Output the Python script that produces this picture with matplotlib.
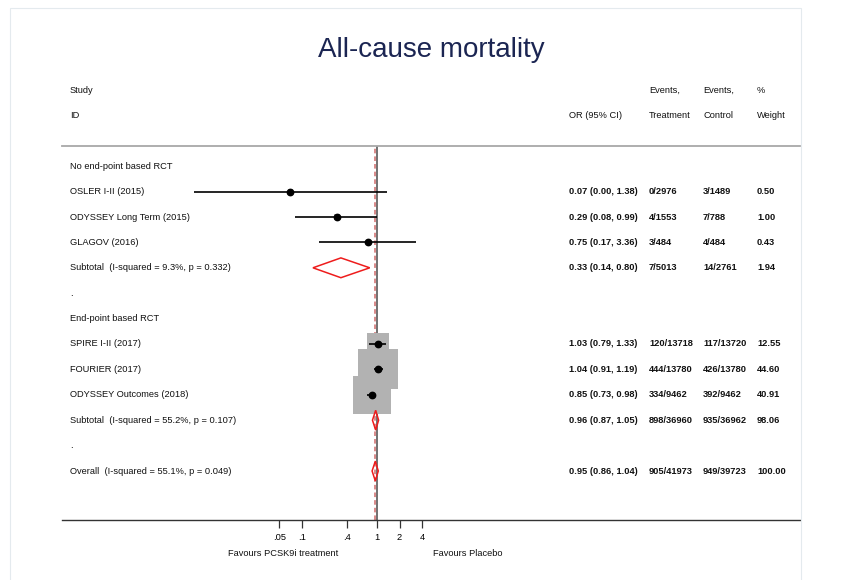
import matplotlib
matplotlib.use("Agg")
import matplotlib.pyplot as plt
import matplotlib.transforms as mtransforms
from matplotlib.patches import Polygon, Rectangle

plt.rcParams["font.family"] = ["Liberation Sans", "DejaVu Sans"]

# ---- data ----
studies = ["OSLER I-II (2015)", "ODYSSEY Long Term (2015)", "GLAGOV (2016)",
           "SPIRE I-II (2017)", "FOURIER (2017)", "ODYSSEY Outcomes (2018)"]
odds = [0.07, 0.29, 0.75, 1.03, 1.04, 0.85]
ci_low = [0.0036, 0.08, 0.17, 0.79, 0.91, 0.73]
ci_high = [1.38, 0.99, 3.36, 1.33, 1.19, 0.98]
events_trt = ["0/2976", "4/1553", "3/484", "120/13718", "444/13780", "334/9462"]
events_ctl = ["3/1489", "7/788", "4/484", "117/13720", "426/13780", "392/9462"]
weights = [0.50, 1.00, 0.43, 12.55, 44.60, 40.91]

pooled_labels = ["Subtotal  (I-squared = 9.3%, p = 0.332)",
                 "Subtotal  (I-squared = 55.2%, p = 0.107)",
                 "Overall  (I-squared = 55.1%, p = 0.049)"]
pooled_or = [0.33, 0.96, 0.95]
pooled_low = [0.14, 0.87, 0.86]
pooled_high = [0.80, 1.05, 1.04]
pooled_trt = ["7/5013", "898/36960", "905/41973"]
pooled_ctl = ["14/2761", "935/36962", "949/39723"]
pooled_weight = [1.94, 98.06, 100.00]

groups = ["No end-point based RCT", "End-point based RCT"]
tick_vals = [0.05, 0.1, 0.4, 1, 2, 4]
tick_labels = [".05", ".1", ".4", "1", "2", "4"]

# ---- layout (rows counted from the "Study" header line) ----
W, H = 842, 580
study_rows = [4, 5, 6, 10, 11, 12]
pooled_rows = [7, 13, 15]
group_rows = [3, 9]
dot_rows = [8, 14]

fig = plt.figure(figsize=(W / 100, H / 100), dpi=100)
fig.patches.append(Rectangle((10 / W, -0.01), (801 - 10) / W, 1.01 - 8 / H,
                             transform=fig.transFigure, fill=False,
                             edgecolor="#e4eaee", linewidth=0.8))

row0, row_h = 90, 25.4
ax_top, ax_bot = 146, 520
ax = fig.add_axes([62 / W, 1 - ax_bot / H, (800 - 62) / W, (ax_bot - ax_top) / H])
ax.set_xscale("log")
ax.set_xlim(10 ** -4.2, 10 ** 5.64)
ax.set_ylim((ax_bot - row0) / row_h, (ax_top - row0) / row_h)

ax.spines[["left", "right"]].set_visible(False)
ax.spines["top"].set_color("#a8a8a8")
ax.spines["top"].set_linewidth(1.3)
ax.spines["bottom"].set_color("#333333")
ax.spines["bottom"].set_linewidth(1.0)
ax.set_yticks([])
ax.set_xticks(tick_vals)
ax.set_xticklabels(tick_labels)
ax.minorticks_off()
ax.tick_params(axis="x", length=6, width=0.9, pad=3, labelsize=6.7, color="#333333")

# reference lines
ax.axvline(1, color="#4a4a4a", linewidth=1.1, zorder=1)
ax.axvline(pooled_or[-1], color="#d06a6a", linewidth=1.1, linestyle=(0, (3, 2)), zorder=1)

# study boxes, CIs and point estimates
ax.scatter(odds, study_rows, s=[18.6 * w for w in weights], marker="s",
           color="#b2b2b2", linewidths=0, zorder=2)
ax.hlines(study_rows, ci_low, ci_high, color="black", linewidth=1.2, zorder=3)
ax.plot(odds, study_rows, "o", color="black", markersize=4.6, zorder=4)

# pooled diamonds
for y, est, lo, hi in zip(pooled_rows, pooled_or, pooled_low, pooled_high):
    d = 0.39
    ax.add_patch(Polygon([(lo, y), (est, y - d), (hi, y), (est, y + d)],
                         closed=True, fill=False, edgecolor="#ee1c1c",
                         linewidth=1.1, zorder=4))

# ---- text columns ----
tr = mtransforms.blended_transform_factory(fig.transFigure, ax.transData)
fs = 6.7
col_label, col_or, col_trt, col_ctl, col_wt = 70, 569, 649, 703, 757


def put(xpx, row, s, **kw):
    ax.text(xpx / W, row, s, transform=tr, fontsize=fs, va="center",
            ha="left", clip_on=False, color="#111111", **kw)


put(col_label, 0, "Study")
put(col_label, 1, "ID")
put(col_or, 1, "OR (95% CI)")
put(col_trt, 0, "Events,")
put(col_trt, 1, "Treatment")
put(col_ctl, 0, "Events,")
put(col_ctl, 1, "Control")
put(col_wt, 0, "%")
put(col_wt, 1, "Weight")

for row, g in zip(group_rows, groups):
    put(col_label, row, g)
for row in dot_rows:
    put(col_label, row, ".")

for row, name, est, lo, hi, et, ec, w in zip(study_rows, studies, odds, ci_low,
                                              ci_high, events_trt, events_ctl, weights):
    put(col_label, row, name)
    put(col_or, row, f"{est:.2f} ({lo:.2f}, {hi:.2f})", fontweight="bold")
    put(col_trt, row, et, fontweight="bold")
    put(col_ctl, row, ec, fontweight="bold")
    put(col_wt, row, f"{w:.2f}", fontweight="bold")

for row, name, est, lo, hi, et, ec, w in zip(pooled_rows, pooled_labels, pooled_or,
                                              pooled_low, pooled_high, pooled_trt,
                                              pooled_ctl, pooled_weight):
    put(col_label, row, name)
    put(col_or, row, f"{est:.2f} ({lo:.2f}, {hi:.2f})", fontweight="bold")
    put(col_trt, row, et, fontweight="bold")
    put(col_ctl, row, ec, fontweight="bold")
    put(col_wt, row, f"{w:.2f}", fontweight="bold")

fig.text(283 / W, 1 - 553 / H, "Favours PCSK9i treatment", fontsize=fs,
         ha="center", va="center", color="#111111")
fig.text(468 / W, 1 - 553 / H, "Favours Placebo", fontsize=fs,
         ha="center", va="center", color="#111111")

fig.text(431 / W, 1 - 57 / H, "All-cause mortality", fontsize=20,
         ha="center", va="baseline", color="#1b2552")

fig.savefig("out.png", dpi=100)
